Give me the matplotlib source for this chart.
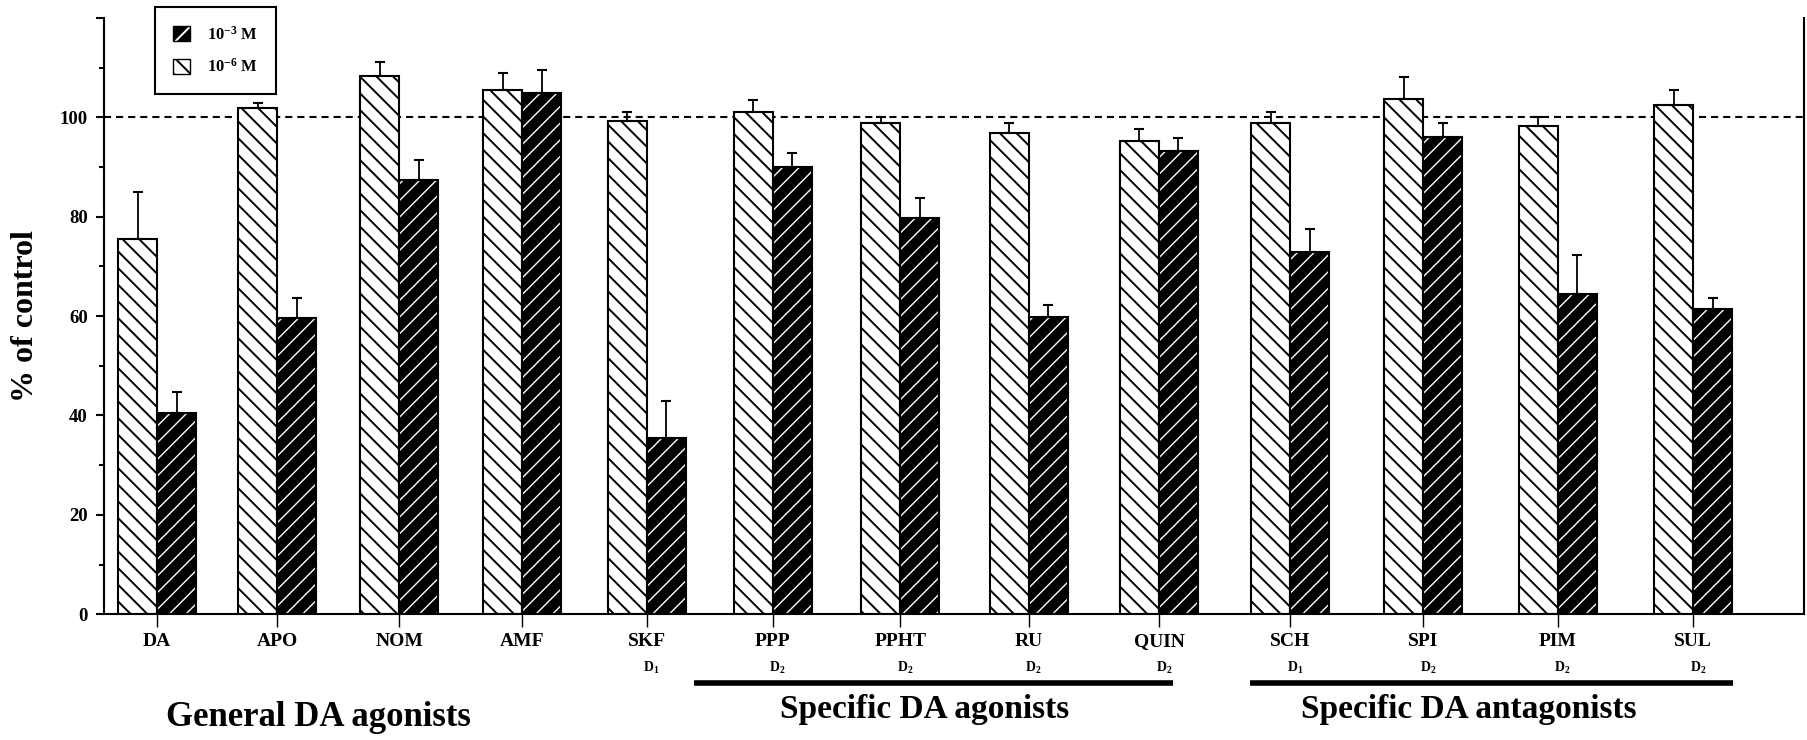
import numpy as np
import matplotlib.pyplot as plt
from matplotlib.patches import Patch

plt.rcParams['font.family'] = ['Liberation Serif', 'DejaVu Serif']
plt.rcParams['font.weight'] = 'bold'
plt.rcParams['mathtext.fontset'] = 'custom'
plt.rcParams['mathtext.rm'] = 'Liberation Serif:bold'
plt.rcParams['mathtext.it'] = 'Liberation Serif:bold'
plt.rcParams['mathtext.bf'] = 'Liberation Serif:bold'
plt.rcParams['hatch.linewidth'] = 1.4

# data (% of control, mean and upper SEM)
drugs = ['DA', 'APO', 'NOM', 'AMF', 'SKF', 'PPP', 'PPHT', 'RU', 'QUIN',
         'SCH', 'SPI', 'PIM', 'SUL']
receptor = ['', '', '', '', '1', '2', '2', '2', '2', '1', '2', '2', '2']
low_dose = [75.6, 101.8, 108.4, 105.4, 99.3, 101.1, 98.8, 96.9, 95.2,
            98.8, 103.7, 98.2, 102.5]          # 10-6 M
low_sem = [9.4, 1.1, 2.8, 3.5, 1.8, 2.4, 1.2, 1.9, 2.4, 2.3, 4.4, 1.9, 2.9]
high_dose = [40.4, 59.7, 87.4, 104.8, 35.4, 89.9, 79.8, 59.8, 93.3,
             72.8, 96.0, 64.5, 61.4]           # 10-3 M
high_sem = [4.3, 4.0, 4.1, 4.7, 7.6, 2.9, 4.0, 2.4, 2.5, 4.7, 2.9, 7.7, 2.3]
groups = ['General DA agonists', 'Specific DA agonists', 'Specific DA antagonists']
legend_labels = ['10$^{-3}$ M', '10$^{-6}$ M']

n = len(drugs)
idx = np.arange(n)
# spacing in the original widens a little towards the right
x = idx + 0.0058 * idx**2
w = 0.326

fig = plt.figure(figsize=(18.07, 7.4), dpi=100)
ax = fig.add_axes([0.0576, 0.1699, 0.9407, 0.8059])

ax.axhline(100, color='black', lw=1.5, ls=(0, (3.4, 2.4)), zorder=1)

ax.bar(x - w/2, low_dose, w, color='white', edgecolor='black', hatch='\\\\',
       linewidth=1.5, zorder=2)
with plt.rc_context({'hatch.linewidth': 1.0}):
    dark = ax.bar(x + w/2, high_dose, w, color='black', edgecolor='white',
                  hatch='//', linewidth=0, zorder=2)
for p in dark:
    if hasattr(p, 'set_hatch_linewidth'):
        p.set_hatch_linewidth(1.0)
ax.bar(x + w/2, high_dose, w, fill=False, edgecolor='black', linewidth=1.5, zorder=3)

ax.errorbar(x - w/2, low_dose, yerr=[np.zeros(n), low_sem], fmt='none',
            ecolor='black', elinewidth=1.3, capsize=3.6, capthick=1.5, zorder=4)
ax.errorbar(x + w/2, high_dose, yerr=[np.zeros(n), high_sem], fmt='none',
            ecolor='black', elinewidth=1.3, capsize=3.6, capthick=1.5, zorder=4)

ax.set_xlim(-0.443, 13.76)
ax.set_ylim(0, 120)

ax.spines['top'].set_visible(False)
for s in ['left', 'right', 'bottom']:
    ax.spines[s].set_linewidth(1.5)

ax.set_yticks(np.arange(0, 121, 20))
ax.set_yticklabels([str(v) if v <= 100 else '' for v in range(0, 121, 20)])
ax.set_yticks(np.arange(10, 120, 20), minor=True)
ax.tick_params(axis='y', which='major', length=5.8, width=1.5, pad=6, labelsize=13.5)
ax.tick_params(axis='y', which='minor', length=3.6, width=1.5)

ax.set_xticks(x)
ax.set_xticklabels(drugs)
ax.tick_params(axis='x', length=9.4, width=1, pad=4, labelsize=14)

ax.set_ylabel('% of control', fontsize=23, fontweight='bold', labelpad=14)

xt = ax.get_xaxis_transform()
for xi, r in zip(x, receptor):
    if r:
        ax.text(xi + 0.04, -0.09, 'D$_{' + r + '}$', transform=xt,
                fontsize=10, ha='center', va='center')

# group bars and titles
ax.plot([4.49, 8.49], [-0.115, -0.115], transform=xt, color='black', lw=4,
        clip_on=False, solid_capstyle='butt')
ax.plot([9.13, 13.17], [-0.115, -0.115], transform=xt, color='black', lw=4,
        clip_on=False, solid_capstyle='butt')
ax.text(1.35, -0.173, groups[0], transform=xt, fontsize=25, ha='center', va='center')
ax.text(6.41, -0.159, groups[1], transform=xt, fontsize=24, ha='center', va='center')
ax.text(10.96, -0.159, groups[2], transform=xt, fontsize=24, ha='center', va='center')

handles = [(Patch(facecolor='black', edgecolor='white', hatch='//', lw=0),
            Patch(fill=False, edgecolor='black', lw=1)),
           Patch(facecolor='white', edgecolor='black', hatch='\\\\', lw=1)]
leg = ax.legend(handles, legend_labels, loc='upper left',
                bbox_to_anchor=(0.0858, 0.9905), bbox_transform=fig.transFigure,
                frameon=True, fancybox=False, edgecolor='black', framealpha=1,
                fontsize=12, handlelength=1.0, handleheight=1.0,
                handletextpad=1.0, labelspacing=0.9, borderpad=1.1,
                borderaxespad=0)
leg.get_frame().set_linewidth(1.5)

fig.savefig('out.png', dpi=100)
